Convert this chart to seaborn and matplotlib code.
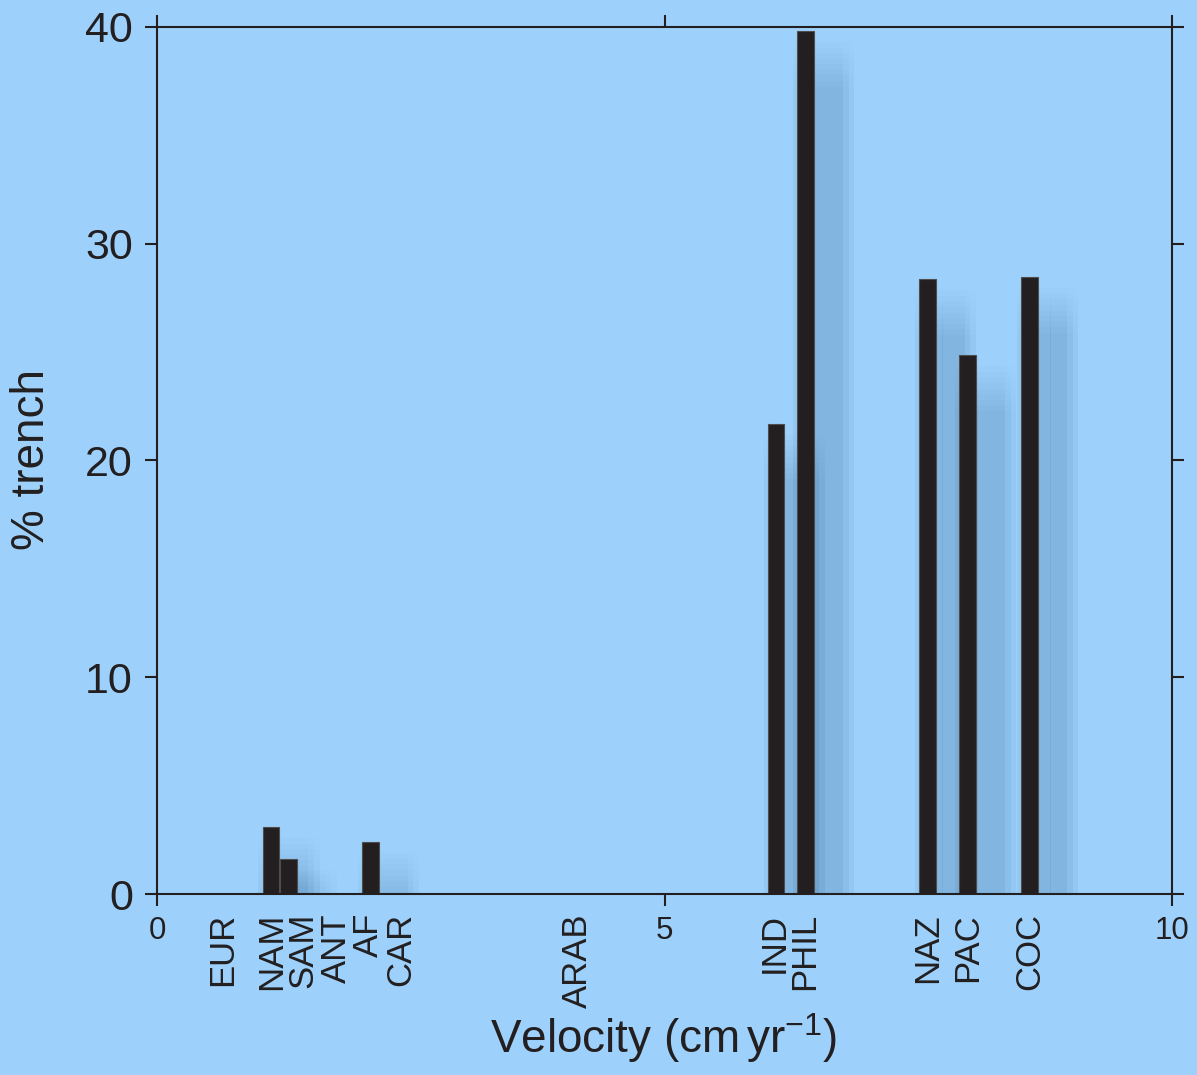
import matplotlib
matplotlib.use("Agg")
import matplotlib.pyplot as plt
import matplotlib.patheffects as pe
import numpy as np
import pandas as pd
import seaborn as sns

# Plate velocities and the share of each plate's boundary that is trench
plates = ["EUR", "NAM", "SAM", "ANT", "AF", "CAR", "ARAB",
          "IND", "PHIL", "NAZ", "PAC", "COC"]
velocity = [0.64, 1.12, 1.29, 1.77, 2.10, 2.40, 4.14,
            6.10, 6.39, 7.59, 7.99, 8.60]
trench_pct = [0.0, 3.1, 1.65, 0.0, 2.4, 0.0, 0.0,
              21.7, 39.8, 28.35, 24.85, 28.45]
x_ticks = [0, 5, 10]
y_ticks = [0, 10, 20, 30, 40]

# small sideways nudges so crowded plate names do not overlap
label_nudge = {"NAM": 0.01, "SAM": 0.15, "AF": -0.02, "IND": -0.02, "PHIL": -0.01}

BG = "#9dd1fb"
INK = "#231f20"
BAR_WIDTH = 0.165

sns.set_theme(style="ticks")
plt.rcParams["font.family"] = ["Liberation Sans", "DejaVu Sans"]
plt.rcParams["mathtext.fontset"] = "custom"
plt.rcParams["mathtext.rm"] = "Liberation Sans"
plt.rcParams["mathtext.it"] = "Liberation Sans:italic"
plt.rcParams["mathtext.bf"] = "Liberation Sans:bold"


def soft_shadow(dx, dy, spread, step, alpha, color="#2f5f8f"):
    """Approximate a blurred drop shadow by stacking faint offset copies."""
    effects = []
    for ox in np.arange(-spread, spread + 0.1, step):
        for oy in np.arange(-spread, spread + 0.1, step):
            effects.append(pe.SimplePatchShadow(offset=(dx + ox, dy + oy),
                                                shadow_rgbFace=color, alpha=alpha))
    return effects


df = pd.DataFrame({"plate": plates, "velocity": velocity, "trench": trench_pct})
bars = df[df["trench"] > 0]

fig = plt.figure(figsize=(11.97, 10.75), dpi=100, facecolor=BG)
ax = fig.add_axes([157.3 / 1197, 1 - 894.3 / 1075,
                   1014.4 / 1197, 867.6 / 1075])
ax.set_facecolor(BG)

native_step = np.min(np.diff(np.sort(bars["velocity"].to_numpy())))
sns.barplot(data=bars, x="velocity", y="trench", native_scale=True,
            width=BAR_WIDTH / native_step, color=INK, saturation=1,
            edgecolor="#4d4d4d", linewidth=0.8, errorbar=None, ax=ax)

bar_shadow = soft_shadow(dx=13, dy=-24, spread=16, step=4, alpha=0.006)
for patch in ax.patches:
    patch.set_path_effects(bar_shadow + [pe.Normal()])

ax.set_xlim(0, 10)
ax.set_ylim(0, 40)
ax.set_xticks(x_ticks)
ax.set_yticks(y_ticks)
ax.set_xlabel("")
ax.set_ylabel("")

for side in ["top", "right", "bottom", "left"]:
    ax.spines[side].set_visible(True)
    ax.spines[side].set_color(INK)
    ax.spines[side].set_linewidth(1.5)

ax.tick_params(which="both", direction="out", length=8.5, width=1.5, color=INK,
               top=True, right=True, labeltop=False, labelright=False)
ax.tick_params(axis="y", labelsize=31, pad=9, labelcolor=INK)
ax.tick_params(axis="x", labelsize=22.5, pad=7, labelcolor=INK)

# plate names under the axis
for name, v in zip(plates, velocity):
    ax.text(v + label_nudge.get(name, 0.0), -0.0216, name,
            transform=ax.get_xaxis_transform(), rotation=90,
            ha="center", va="top", fontsize=25, color=INK, clip_on=False)

fig.text(32 / 1197, 1 - 460 / 1075, "% trench", rotation=90,
         ha="center", va="center", fontsize=33, color=INK)
fig.text(664 / 1197, 1 - 1053 / 1075, r"Velocity (cm$\,$yr$^{-1}$)",
         ha="center", va="baseline", fontsize=33, color=INK)

fig.savefig("out.png", dpi=100, facecolor=BG)
